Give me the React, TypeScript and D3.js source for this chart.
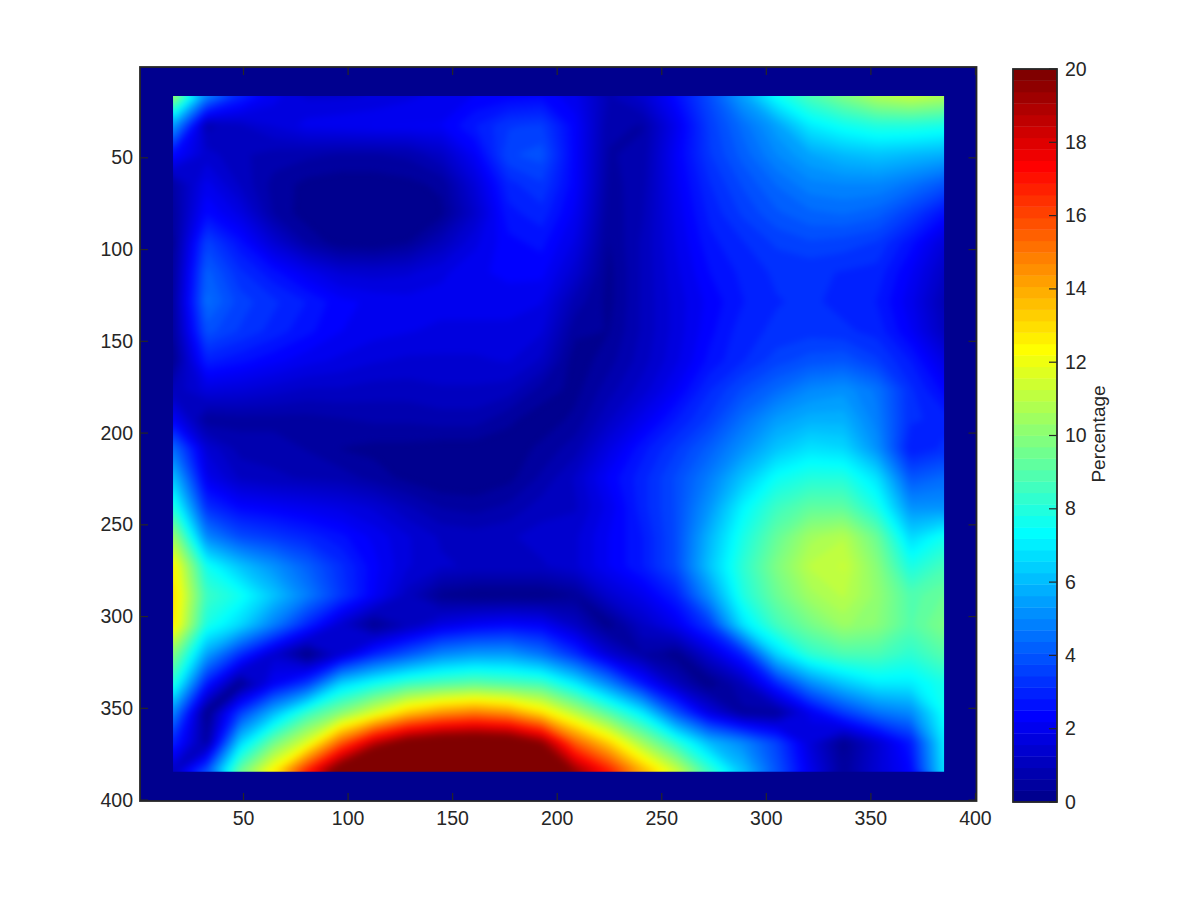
import React from "react";
import * as d3 from "d3";

const axisTicks = [50, 100, 150, 200, 250, 300, 350, 400];
const colorTicks = [0, 2, 4, 6, 8, 10, 12, 14, 16, 18, 20];
const colorLabel = "Percentage";

// Percentage; rows run top to bottom, columns left to right.
const row00 = [10.5,5,3,2,1.5,1.5,1.6,1.8,2,2.2,2.3,2.4,2,0.9,1.4,2.5,3.8,5.5,7.5,8.8,9.8,10.8,11.2,10.8];
const row01 = [5.5,0.8,1.2,1.6,2,2.1,2.2,2.2,2.2,2.8,3.4,3.5,2.3,0.7,0.6,2,3.5,4.5,5.5,7,7.6,8,8,7.8];
const row02 = [2.5,1.4,1,0.8,0.7,0.6,0.6,0.7,1.2,2.2,3.7,3.9,2.3,0.6,0.7,2.2,3.4,4.2,5,5.6,6,6.2,6,5.8];
const row03 = [0.6,2,1.2,0.5,0.2,0.1,0.1,0.2,0.4,1.6,3,3.4,2.3,0.5,0.8,2.1,3.1,3.8,4.4,4.9,5,5,4.6,4];
const row04 = [0.4,2.5,1.8,0.6,0.1,0,0,0.05,0.2,1.3,2.7,3,2.1,0.4,0.9,2,2.9,3.5,4,4.3,4.4,4.2,3.5,2.6];
const row05 = [0.3,3.6,2.6,1.5,0.6,0.1,0.05,0.3,1,1.8,2.4,2.6,1.8,0.3,1,1.9,2.7,3.1,3.5,3.7,3.6,3.4,2.6,1.6];
const row06 = [0.4,4.2,3.2,2.6,2,1.5,1.4,1.5,1.8,2.1,2.3,2.3,1.4,0.2,1,1.8,2.5,2.9,3.2,3.2,3.1,3,2.2,1.2];
const row07 = [0.5,4.5,3.6,3.2,2.8,2.3,2.1,2,2,2,2,1.9,0.8,0.2,1,1.7,2.3,2.8,3.1,3.2,3,2.8,2,0.9];
const row08 = [0.4,3.9,3.4,3,2.6,2.2,2,1.9,1.8,1.8,1.8,1.6,0.4,0.3,1,1.7,2.4,3,3.2,3.3,3.2,3,2.2,1.1];
const row09 = [0.2,2.9,2.6,2.3,2,1.8,1.6,1.5,1.5,1.5,1.6,1.2,0.1,0.5,1.1,1.8,2.6,3.1,3.6,3.9,4,3.5,2.8,1.8];
const row10 = [1,1.7,1.6,1.4,1.2,1.2,1.1,1.1,1.2,1.2,1.1,0.5,0.2,0.8,1.4,2.2,3.1,3.8,4.4,5,5.2,4.6,3.2,2.4];
const row11 = [2.2,0.4,0.5,0.5,0.5,0.6,0.7,0.7,0.8,0.8,0.4,0.1,0.4,1.2,2,2.8,3.5,4.5,5.4,5.8,5.8,4.8,3.2,3];
const row12 = [4.5,1.5,0.8,0.8,0.6,0.3,0.2,0.2,0.1,0.1,0.1,0.4,0.8,1.8,2.7,3.4,4.2,5.2,6.2,6.8,6.6,5.2,2.8,3.2];
const row13 = [6.2,2,1.2,1,0.9,0.8,0.5,0.2,0,0,0.2,0.7,1.3,2.3,3,3.8,4.8,6.2,7.5,8,8,6.8,4,4.4];
const row14 = [8,3.2,2.4,2.2,2,1.8,1.5,1,0.6,0.5,0.7,1.1,1.2,2,3,3.8,5.3,7.2,8.5,9.2,9.2,7.8,5.2,5.2];
const row15 = [10.5,5,3.8,3.4,3,2.6,2.1,1.6,1.2,1.1,1.2,1.4,1.5,2.2,2.8,3.8,5.9,7.8,9.3,10.5,10.9,9.4,6.6,7.6];
const row16 = [12.6,7.6,6.2,5.2,4.2,3.2,2.3,1.6,1.3,1.2,1.2,1.2,1.5,2.2,2.8,3.8,6.2,8.2,9.8,11,11.3,10,7.8,8.7];
const row17 = [13,8.5,7.6,6.2,4.8,3.4,2.2,1.1,0.2,0,0,0,0.3,1.4,2,2.9,5.2,7.9,9.4,10.5,11,10.2,8.9,9.4];
const row18 = [12.8,7.8,6.6,4.8,3,1.4,0.2,1,1.8,2.2,2.4,2.2,1.2,0.1,1.2,2,3.4,6.8,8.6,9.6,10.4,10,9,9.8];
const row19 = [10,5.5,3.2,1.4,0,1.5,3,4,5,5.4,5.4,4.6,3.2,1.5,0.6,0.1,1.5,3,6.5,8.2,8.8,8.8,8.2,9];
const row20 = [8,2.8,0.2,2.2,3.5,6.5,7.6,8.5,8.9,9.2,8.9,8.6,7,5,2.8,1.1,0,1,3,5,6.2,7,7,7.8];
const row21 = [5,0.1,3.5,6,8.4,10,11.7,13.5,14.5,15,14.5,13,11,9,7,4,1.8,0.5,0.4,2,3.4,4.5,5,7.5];
const row22 = [3,0.5,6.5,9.5,11.7,15.5,18.5,20.3,21,21.2,21,19.5,15.5,13.2,10.5,8.2,6,5,3.6,1.6,0.2,1.4,2.8,7];
const row23 = [1.2,4,9.5,12.7,17,21,24,24,24,24,24,22,19.5,17,14,11.5,8.5,6.2,4,2,0.4,1.5,2.4,6.8];
const rows = [row00,row01,row02,row03,row04,row05,row06,row07,row08,row09,row10,row11,row12,row13,row14,row15,row16,row17,row18,row19,row20,row21,row22,row23];

const INK = "#262626";
const FONT = "'Liberation Sans', Arial, sans-serif";
const LEVELS = 64;
const CMAX = 20;
const DOMAIN: [number, number] = [0.5, 400.5];
const DATA_X: [number, number] = [16.3, 385];
const DATA_Y: [number, number] = [16.3, 384.6];

function jet(k: number): string {
  // MATLAB's 64 step jet
  const t = (k + 1) / LEVELS;
  const ramp = (v: number) => Math.max(0, Math.min(1, v));
  const r = ramp(Math.min(4 * t - 1.5, -4 * t + 4.5));
  const g = ramp(Math.min(4 * t - 0.5, -4 * t + 3.5));
  const b = ramp(Math.min(4 * t + 0.5, -4 * t + 2.5));
  return d3.rgb(r * 255, g * 255, b * 255).formatHex();
}

export default function App() {
  const x = d3.scaleLinear().domain(DOMAIN).range([140, 976.5]);
  const y = d3.scaleLinear().domain(DOMAIN).range([67, 801]);
  const c = d3.scaleLinear().domain([0, CMAX]).range([802, 69]);

  const nx = rows[0].length;
  const ny = rows.length;
  const flat = rows.flat();
  const thresholds = d3.range(1, LEVELS).map((k) => (k * CMAX) / LEVELS);
  const bands = d3.contours().size([nx, ny]).smooth(true).thresholds(thresholds)(flat);

  // contour space has cell centres at i + 0.5
  const gx = d3.scaleLinear().domain([0.5, nx - 0.5]).range(DATA_X);
  const gy = d3.scaleLinear().domain([0.5, ny - 0.5]).range(DATA_Y);
  const path = d3.geoPath(
    d3.geoTransform({
      point(px: number, py: number) {
        (this as any).stream.point(x(gx(px)), y(gy(py)));
      },
    })
  );

  const x0 = x(DOMAIN[0]), x1 = x(DOMAIN[1]), y0 = y(DOMAIN[0]), y1 = y(DOMAIN[1]);
  const L = 8;
  const textStyle = { fontFamily: FONT, fontSize: 19.5, fill: INK };

  return (
    <svg width={1200} height={900} style={{ position: "absolute", left: 0, top: 0, background: "#fff" }}>
      <defs>
        <clipPath id="dataClip">
          <rect x={x(DATA_X[0])} y={y(DATA_Y[0])} width={x(DATA_X[1]) - x(DATA_X[0])} height={y(DATA_Y[1]) - y(DATA_Y[0])} />
        </clipPath>
        <filter id="soften" filterUnits="userSpaceOnUse" x={100} y={30} width={920} height={810} colorInterpolationFilters="sRGB">
          <feGaussianBlur stdDeviation={3.2} />
        </filter>
      </defs>
      <rect x={x0} y={y0} width={x1 - x0} height={y1 - y0} fill={jet(0)} />
      <g clipPath="url(#dataClip)">
        <g filter="url(#soften)">
          {bands.map((b, i) => (
            <path key={i} d={path(b as any) || ""} fill={jet(i + 1)} />
          ))}
        </g>
      </g>
      <rect x={x0} y={y0} width={x1 - x0} height={y1 - y0} fill="none" stroke={INK} strokeWidth={1.8} />
      {axisTicks.map((t) => (
        <g key={t} stroke={INK} strokeWidth={1.2}>
          <line x1={x(t)} x2={x(t)} y1={y1} y2={y1 - L} />
          <line x1={x(t)} x2={x(t)} y1={y0} y2={y0 + L} />
          <line y1={y(t)} y2={y(t)} x1={x0} x2={x0 + L} />
          <line y1={y(t)} y2={y(t)} x1={x1} x2={x1 - L} />
        </g>
      ))}
      {axisTicks.map((t) => (
        <text key={t} x={x(t)} y={825} textAnchor="middle" style={textStyle}>{t}</text>
      ))}
      {axisTicks.map((t) => (
        <text key={t} x={133} y={y(t) + 6.5} textAnchor="end" style={textStyle}>{t}</text>
      ))}
      {d3.range(LEVELS).map((k) => {
        const top = c(((k + 1) * CMAX) / LEVELS);
        const bottom = c((k * CMAX) / LEVELS);
        return <rect key={k} x={1013} width={44} y={top} height={bottom - top + 0.4} fill={jet(k)} />;
      })}
      <rect x={1013} y={c(CMAX)} width={44} height={c(0) - c(CMAX)} fill="none" stroke={INK} strokeWidth={1.8} />
      {colorTicks.map((t) => (
        <g key={t}>
          <line x1={1057} x2={1049} y1={c(t)} y2={c(t)} stroke={INK} strokeWidth={1.2} />
          <text x={1065} y={c(t) + 6.5} style={textStyle}>{t}</text>
        </g>
      ))}
      <text transform="translate(1105,434) rotate(-90)" textAnchor="middle" style={{ ...textStyle, fontSize: 19 }}>{colorLabel}</text>
    </svg>
  );
}
